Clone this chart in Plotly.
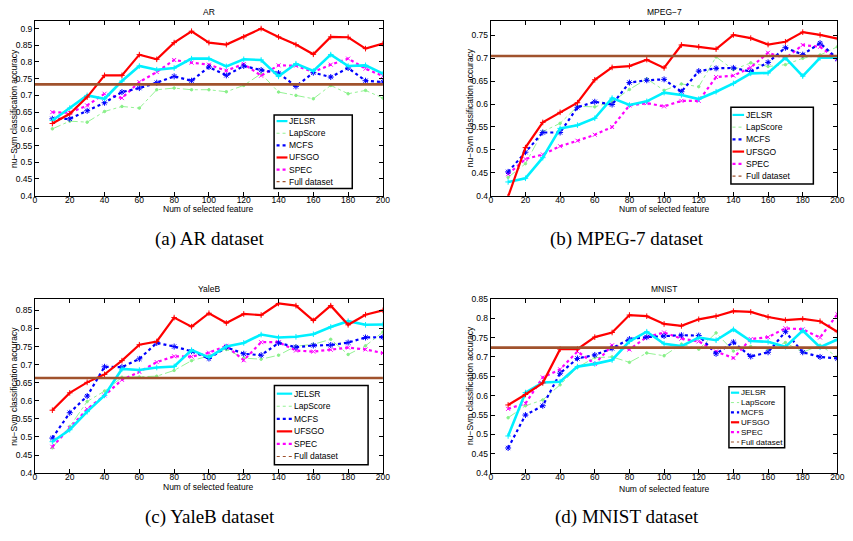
import plotly.graph_objects as go

# ---------------- data ----------------
features = [10, 20, 30, 40, 50, 60, 70, 80, 90, 100, 110, 120, 130, 140, 150, 160, 170, 180, 190, 200]
methods = ["JELSR", "LapScore", "MCFS", "UFSGO", "SPEC"]
full_label = "Full dataset"

ar_jelsr = [0.625, 0.662, 0.700, 0.690, 0.743, 0.788, 0.777, 0.782, 0.810, 0.810, 0.787, 0.808, 0.806, 0.757, 0.795, 0.773, 0.822, 0.788, 0.790, 0.765]
ar_lap = [0.600, 0.623, 0.620, 0.652, 0.667, 0.662, 0.717, 0.722, 0.717, 0.717, 0.711, 0.730, 0.765, 0.710, 0.700, 0.690, 0.730, 0.705, 0.715, 0.692]
ar_mcfs = [0.630, 0.630, 0.654, 0.678, 0.710, 0.722, 0.738, 0.757, 0.744, 0.785, 0.760, 0.788, 0.776, 0.767, 0.727, 0.768, 0.755, 0.782, 0.744, 0.740]
ar_ufsgo = [0.616, 0.645, 0.695, 0.760, 0.760, 0.822, 0.808, 0.858, 0.892, 0.858, 0.852, 0.875, 0.900, 0.875, 0.852, 0.823, 0.875, 0.874, 0.840, 0.855]
ar_spec = [0.650, 0.648, 0.670, 0.705, 0.692, 0.740, 0.770, 0.806, 0.798, 0.792, 0.774, 0.794, 0.759, 0.790, 0.789, 0.770, 0.792, 0.810, 0.780, 0.758]
ar_full = 0.733

mp_jelsr = [0.430, 0.438, 0.483, 0.547, 0.554, 0.569, 0.613, 0.598, 0.606, 0.625, 0.620, 0.611, 0.627, 0.645, 0.667, 0.668, 0.701, 0.661, 0.701, 0.701]
mp_lap = [0.440, 0.470, 0.540, 0.558, 0.595, 0.594, 0.605, 0.632, 0.655, 0.630, 0.644, 0.638, 0.703, 0.675, 0.690, 0.682, 0.686, 0.700, 0.707, 0.725]
mp_mcfs = [0.452, 0.495, 0.538, 0.538, 0.593, 0.605, 0.599, 0.647, 0.652, 0.654, 0.627, 0.672, 0.678, 0.679, 0.671, 0.691, 0.723, 0.708, 0.733, 0.699]
mp_ufsgo = [0.398, 0.505, 0.560, 0.582, 0.603, 0.653, 0.680, 0.683, 0.697, 0.679, 0.729, 0.725, 0.720, 0.751, 0.744, 0.730, 0.736, 0.757, 0.751, 0.743]
mp_spec = [0.447, 0.480, 0.490, 0.508, 0.520, 0.533, 0.550, 0.597, 0.602, 0.595, 0.607, 0.607, 0.659, 0.662, 0.680, 0.712, 0.700, 0.729, 0.725, 0.698]
mp_full = 0.705

yb_jelsr = [0.487, 0.520, 0.570, 0.615, 0.688, 0.685, 0.692, 0.695, 0.740, 0.720, 0.750, 0.760, 0.783, 0.775, 0.777, 0.784, 0.804, 0.820, 0.810, 0.811]
yb_lap = [0.470, 0.529, 0.598, 0.627, 0.665, 0.666, 0.668, 0.684, 0.711, 0.724, 0.742, 0.718, 0.715, 0.726, 0.751, 0.756, 0.770, 0.728, 0.752, 0.790]
yb_mcfs = [0.497, 0.567, 0.613, 0.694, 0.693, 0.716, 0.760, 0.750, 0.737, 0.717, 0.748, 0.730, 0.726, 0.760, 0.748, 0.753, 0.754, 0.761, 0.775, 0.776]
yb_ufsgo = [0.574, 0.622, 0.651, 0.673, 0.711, 0.755, 0.764, 0.830, 0.805, 0.842, 0.815, 0.840, 0.837, 0.869, 0.863, 0.822, 0.863, 0.810, 0.838, 0.850]
yb_spec = [0.473, 0.525, 0.577, 0.615, 0.658, 0.680, 0.707, 0.723, 0.722, 0.733, 0.752, 0.712, 0.762, 0.762, 0.739, 0.736, 0.741, 0.747, 0.742, 0.732]
yb_full = 0.663

mn_jelsr = [0.496, 0.608, 0.634, 0.636, 0.675, 0.682, 0.692, 0.740, 0.765, 0.734, 0.728, 0.750, 0.743, 0.771, 0.741, 0.739, 0.726, 0.768, 0.725, 0.745]
mn_lap = [0.543, 0.574, 0.589, 0.628, 0.673, 0.698, 0.700, 0.686, 0.710, 0.703, 0.733, 0.720, 0.762, 0.715, 0.727, 0.720, 0.737, 0.712, 0.730, 0.700]
mn_mcfs = [0.465, 0.550, 0.574, 0.658, 0.696, 0.705, 0.722, 0.746, 0.751, 0.754, 0.756, 0.755, 0.708, 0.738, 0.701, 0.712, 0.765, 0.712, 0.700, 0.696]
mn_ufsgo = [0.576, 0.603, 0.633, 0.720, 0.720, 0.751, 0.763, 0.808, 0.805, 0.785, 0.780, 0.797, 0.805, 0.818, 0.816, 0.803, 0.795, 0.798, 0.792, 0.765]
mn_spec = [0.566, 0.580, 0.647, 0.668, 0.714, 0.682, 0.730, 0.719, 0.751, 0.763, 0.747, 0.740, 0.714, 0.697, 0.746, 0.751, 0.774, 0.771, 0.750, 0.810]
mn_full = 0.724

titles = ["AR", "MPEG\u22127", "YaleB", "MNIST"]
captions = ["(a) AR dataset", "(b) MPEG-7 dataset", "(c) YaleB dataset", "(d) MNIST dataset"]
x_label = "Num of selected feature"
y_label = "nu\u2212Svm classification accuracy"
x_ticks = [0, 20, 40, 60, 80, 100, 120, 140, 160, 180, 200]
x_tick_text = ["0", "20", "40", "60", "80", "100", "120", "140", "160", "180", "200"]
y_ticks = [0.4, 0.45, 0.5, 0.55, 0.6, 0.65, 0.7, 0.75, 0.8, 0.85, 0.9]
y_tick_text = ["0.4", "0.45", "0.5", "0.55", "0.6", "0.65", "0.7", "0.75", "0.8", "0.85", "0.9"]
y_tops = [0.9235, 0.782, 0.882, 0.85]

datasets = [
    [ar_jelsr, ar_lap, ar_mcfs, ar_ufsgo, ar_spec, ar_full],
    [mp_jelsr, mp_lap, mp_mcfs, mp_ufsgo, mp_spec, mp_full],
    [yb_jelsr, yb_lap, yb_mcfs, yb_ufsgo, yb_spec, yb_full],
    [mn_jelsr, mn_lap, mn_mcfs, mn_ufsgo, mn_spec, mn_full],
]

# ---------------- styles ----------------
W, H = 853, 541
FONT = "Liberation Sans"
styles = {
    "JELSR": dict(color="#00F0FF", width=2.6, dash="solid", symbol="cross-thin-open", msize=4),
    "LapScore": dict(color="#88F088", width=0.9, dash="dashdot", symbol="circle", msize=2.5),
    "MCFS": dict(color="#0000FF", width=2.2, dash="dot", symbol="asterisk-open", msize=5),
    "UFSGO": dict(color="#FF0000", width=2.2, dash="solid", symbol="cross-thin-open", msize=4),
    "SPEC": dict(color="#FF00FF", width=2.2, dash="dot", symbol="x-thin-open", msize=4),
}
full_color = "#A0522D"

# axes pixel boxes: (left, top, right, bottom)
boxes = [(33.3, 16, 385, 194.3), (494, 16, 844.3, 194.3),
         (33.3, 299.3, 385, 477), (494, 299.3, 844.3, 477)]
# legend pixel geometry: box(l,t,r,b), first row y, row step, line x0,x1, text x, font size
legends = [
    ((275, 112, 354, 187), 118.3, 12.35, 277.5, 288.5, 290, 8.5),
    ((736.7, 104.3, 820, 182.3), 112, 12.45, 738.3, 750, 752, 8.5),
    ((275.3, 387.7, 370, 468.3), 396, 12.8, 277.7, 293.3, 295, 8.5),
    ((734.7, 389, 791, 451), 395, 10.05, 736.7, 745, 746.5, 8),
]
caption_pos = [(210, 238), (632, 238), (210, 522), (632, 522)]
title_y = [7, 7, 289, 289]
xlabel_y = [208, 208, 491, 493]
ylabel_x = [12, 473, 12, 473]


def px(x):
    return x / W


def py(y):
    return 1 - y / H


fig = go.Figure()
shapes = []
annotations = []

for i, data in enumerate(datasets):
    l, t, r, b = boxes[i]
    xa = "xaxis" if i == 0 else f"xaxis{i + 1}"
    ya = "yaxis" if i == 0 else f"yaxis{i + 1}"
    xr = "x" if i == 0 else f"x{i + 1}"
    yr = "y" if i == 0 else f"y{i + 1}"

    order = [1, 4, 2, 0, 3]
    for k in order:
        name = methods[k]
        s = styles[name]
        fig.add_trace(go.Scatter(
            x=features, y=data[k], mode="lines+markers", name=name,
            line=dict(color=s["color"], width=s["width"], dash=s["dash"]),
            marker=dict(symbol=s["symbol"], size=s["msize"], color=s["color"],
                        line=dict(color=s["color"], width=1)),
            xaxis=xr, yaxis=yr, showlegend=False, cliponaxis=True))
    # full dataset reference line across the axis range
    fig.add_trace(go.Scatter(
        x=[x_ticks[0], x_ticks[-1]], y=[data[5], data[5]], mode="lines",
        line=dict(color=full_color, width=2.6), xaxis=xr, yaxis=yr,
        name=full_label, showlegend=False, hoverinfo="skip"))

    yt = [v for v in y_ticks if v <= y_tops[i] + 1e-9]
    ytt = y_tick_text[:len(yt)]
    fig.update_layout(**{
        xa: dict(domain=[px(l), px(r)], range=[0, 200], anchor=yr,
                 tickmode="array", tickvals=x_ticks, ticktext=x_tick_text,
                 ticks="inside", ticklen=4, tickwidth=1, tickcolor="black",
                 showline=True, linecolor="black", linewidth=1, mirror="allticks",
                 showgrid=False, zeroline=False, ticklabelstandoff=-4,
                 tickfont=dict(family=FONT, size=8.5, color="black")),
        ya: dict(domain=[py(b), py(t)], range=[0.4, y_tops[i]], anchor=xr,
                 tickmode="array", tickvals=yt, ticktext=ytt,
                 ticks="inside", ticklen=4, tickwidth=1, tickcolor="black",
                 showline=True, linecolor="black", linewidth=1, mirror="allticks",
                 showgrid=False, zeroline=False,
                 tickfont=dict(family=FONT, size=8.5, color="black")),
    })

    cx = (l + r) / 2
    annotations.append(dict(text=titles[i], x=px(cx), y=py(title_y[i]), xref="paper", yref="paper",
                            showarrow=False, xanchor="center", yanchor="middle",
                            font=dict(family=FONT, size=8.5, color="black")))
    annotations.append(dict(text=x_label, x=px(cx), y=py(xlabel_y[i]), xref="paper", yref="paper",
                            showarrow=False, xanchor="center", yanchor="middle",
                            font=dict(family=FONT, size=8.5, color="black")))
    annotations.append(dict(text=y_label, x=px(ylabel_x[i]), y=py((t + b) / 2), xref="paper", yref="paper",
                            showarrow=False, xanchor="center", yanchor="middle", textangle=-90,
                            font=dict(family=FONT, size=8.5, color="black")))
    cxp, cyp = caption_pos[i]
    annotations.append(dict(text=captions[i], x=px(cxp), y=py(cyp), xref="paper", yref="paper",
                            showarrow=False, xanchor="center", yanchor="middle",
                            font=dict(family="Liberation Serif", size=19, color="black")))

    # keyed legend box
    (bl, bt, br, bb), y0, dy, lx0, lx1, tx, fs = legends[i]
    shapes.append(dict(type="rect", xref="paper", yref="paper", x0=px(bl), x1=px(br),
                       y0=py(bb), y1=py(bt), fillcolor="white", line=dict(color="black", width=1.5),
                       layer="above"))
    entries = methods + [full_label]
    for j, name in enumerate(entries):
        yy = y0 + j * dy
        if name == full_label:
            col, wd, ds = full_color, 1.2, "dot"
        else:
            s = styles[name]
            col, wd, ds = s["color"], min(s["width"], 2.2), s["dash"]
        shapes.append(dict(type="line", xref="paper", yref="paper", x0=px(lx0), x1=px(lx1),
                           y0=py(yy), y1=py(yy), line=dict(color=col, width=wd, dash=ds if ds != "dashdot" else "dot"),
                           layer="above"))
        annotations.append(dict(text=name, x=px(tx), y=py(yy), xref="paper", yref="paper",
                                showarrow=False, xanchor="left", yanchor="middle",
                                borderpad=0, borderwidth=0,
                                font=dict(family=FONT, size=fs, color="black")))

fig.update_layout(
    width=W, height=H, autosize=False,
    margin=dict(l=0, r=0, t=0, b=0),
    paper_bgcolor="white", plot_bgcolor="white",
    showlegend=False,
    shapes=shapes, annotations=annotations,
)

fig.write_html("out.html", config={"displayModeBar": False},
               post_script="document.body.style.margin='0px';document.body.style.padding='0px';")
